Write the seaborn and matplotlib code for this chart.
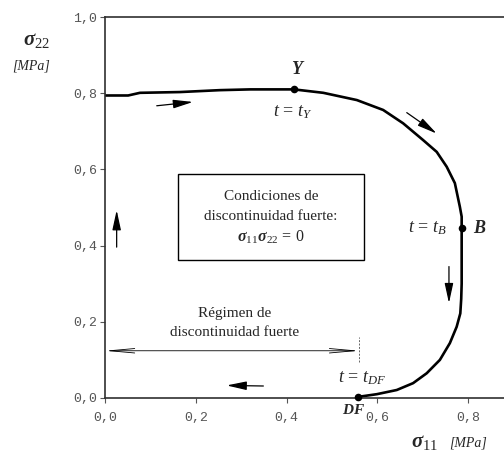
import numpy as np
import pandas as pd
import matplotlib
matplotlib.use("Agg")
import matplotlib.pyplot as plt
import seaborn as sns
from matplotlib.patches import Rectangle
from matplotlib.ticker import FuncFormatter

# ---- data ----
sigma11 = [0.000, 0.051, 0.077, 0.165, 0.253, 0.320, 0.4165, 0.481, 0.555, 0.613,
           0.657, 0.701, 0.731, 0.753, 0.771, 0.782, 0.786, 0.786, 0.786, 0.785,
           0.783, 0.775, 0.760, 0.738, 0.709, 0.679, 0.643, 0.599, 0.558]
sigma22 = [0.794, 0.794, 0.801, 0.803, 0.808, 0.810, 0.810, 0.801, 0.782, 0.756,
           0.721, 0.677, 0.646, 0.607, 0.564, 0.502, 0.476, 0.445, 0.300, 0.260,
           0.222, 0.187, 0.144, 0.100, 0.065, 0.039, 0.021, 0.010, 0.003]
point_names = ["Y", "B", "DF"]
point_s11 = [0.4165, 0.786, 0.558]
point_s22 = [0.810, 0.445, 0.003]
x_ticks = [0.0, 0.2, 0.4, 0.6, 0.8]
y_ticks = [0.0, 0.2, 0.4, 0.6, 0.8, 1.0]
regime_end = 0.560
regime_y = 0.124

df = pd.DataFrame({"s11": sigma11, "s22": sigma22})
pts = pd.DataFrame({"name": point_names, "s11": point_s11, "s22": point_s22})

sns.set_theme(style="ticks")
plt.rcParams["font.family"] = ["Liberation Serif", "DejaVu Serif"]
plt.rcParams["mathtext.fontset"] = "custom"
plt.rcParams["mathtext.rm"] = "Liberation Serif"
plt.rcParams["mathtext.it"] = "Liberation Serif:italic"
plt.rcParams["mathtext.bf"] = "Liberation Serif:bold:italic"

fig = plt.figure(figsize=(5.04, 4.59), dpi=100)
ax = fig.add_axes([105/504, 1-398/459, (504-105)/504, (398-17)/459])

sns.lineplot(data=df, x="s11", y="s22", sort=False, color="black", lw=1.9, ax=ax,
             estimator=None)
sns.scatterplot(data=pts, x="s11", y="s22", color="black", s=30, ax=ax,
                zorder=5, clip_on=False, edgecolor="black", linewidth=0)

ax.set_xlim(0, 0.8793)
ax.set_ylim(0, 1.0)
ax.set_xticks(x_ticks)
ax.set_yticks(y_ticks)
fmt = FuncFormatter(lambda v, p: f"{v:.1f}".replace(".", ","))
ax.xaxis.set_major_formatter(fmt)
ax.yaxis.set_major_formatter(fmt)
ax.set_xlabel("")
ax.set_ylabel("")
for lab in ax.get_xticklabels() + ax.get_yticklabels():
    lab.set_fontfamily("Liberation Mono")
    lab.set_fontsize(9.5)
    lab.set_color("#555555")
ax.tick_params(axis="both", direction="out", length=3.5, width=0.8, color="#555555")
ax.tick_params(axis="x", pad=6.5)
ax.tick_params(axis="y", pad=2)
for side in ["left", "bottom", "top"]:
    ax.spines[side].set_visible(True)
    ax.spines[side].set_color("#303030")
    ax.spines[side].set_linewidth(1.2)
ax.spines["right"].set_visible(False)

# direction arrows
arrow_kw = dict(arrowstyle="-|>,head_length=1.2,head_width=0.26", color="black",
                lw=0.9, mutation_scale=10, shrinkA=0, shrinkB=0)
for (x0, y0, x1, y1) in [(0.114, 0.767, 0.194, 0.777),
                         (0.665, 0.749, 0.731, 0.694),
                         (0.758, 0.345, 0.758, 0.249),
                         (0.349, 0.0315, 0.268, 0.033),
                         (0.0257, 0.396, 0.0257, 0.493)]:
    ax.annotate("", xy=(x1, y1), xytext=(x0, y0), arrowprops=arrow_kw)

# regime double arrow
ax.annotate("", xy=(0.0, regime_y), xytext=(regime_end, regime_y),
            arrowprops=dict(arrowstyle="<->,head_length=1.8,head_width=0.16",
                            color="black", lw=0.6, mutation_scale=10,
                            shrinkA=0, shrinkB=0))
ax.plot([regime_end, regime_end], [0.095, 0.161], ls=(0, (2, 1.5)), color="#666666",
        lw=0.7)
ax.text(0.2865, 0.223, "Régimen de", ha="center", va="center", fontsize=11)
ax.text(0.2865, 0.171, "discontinuidad fuerte", ha="center", va="center", fontsize=11)

# conditions box
ax.add_patch(Rectangle((0.161, 0.362), 0.571-0.161, 0.587-0.362, fill=False,
                       ec="black", lw=1.0))
ax.text(0.366, 0.528, "Condiciones de", ha="center", va="center", fontsize=11)
ax.text(0.366, 0.476, "discontinuidad fuerte:", ha="center", va="center", fontsize=11)
ax.text(0.366, 0.421, r"$\mathbf{\sigma}_{11}\mathbf{\sigma}_{22}\,=\,0$", ha="center",
        va="center", fontsize=11.5)

# point labels
ax.text(0.425, 0.861, r"$\mathbf{Y}$", ha="center", va="center", fontsize=13)
ax.text(0.415, 0.751, r"$t\,=\,t_Y$", ha="center", va="center", fontsize=13)
ax.text(0.755, 0.445, r"$t\,=\,t_B$", ha="right", va="center", fontsize=13)
ax.text(0.811, 0.445, r"$\mathbf{B}$", ha="left", va="center", fontsize=13)
ax.text(0.566, 0.052, r"$t\,=\,t_{DF}$", ha="center", va="center", fontsize=13)
ax.text(0.547, -0.031, r"$\mathbf{DF}$", ha="center", va="center", fontsize=11,
        clip_on=False)

# axis labels
fig.text(37/504, 1-40/459, r"$\mathbf{\sigma}_{22}$", ha="center", va="center",
         fontsize=15)
fig.text(31/504, 1-66/459, "[MPa]", ha="center", va="center", fontsize=10,
         style="italic")
fig.text(425/504, 1-443/459, r"$\mathbf{\sigma}_{11}$", ha="center", va="center",
         fontsize=15)
fig.text(468/504, 1-443/459, "[MPa]", ha="center", va="center", fontsize=10,
         style="italic")

fig.savefig("out.png", dpi=100)
